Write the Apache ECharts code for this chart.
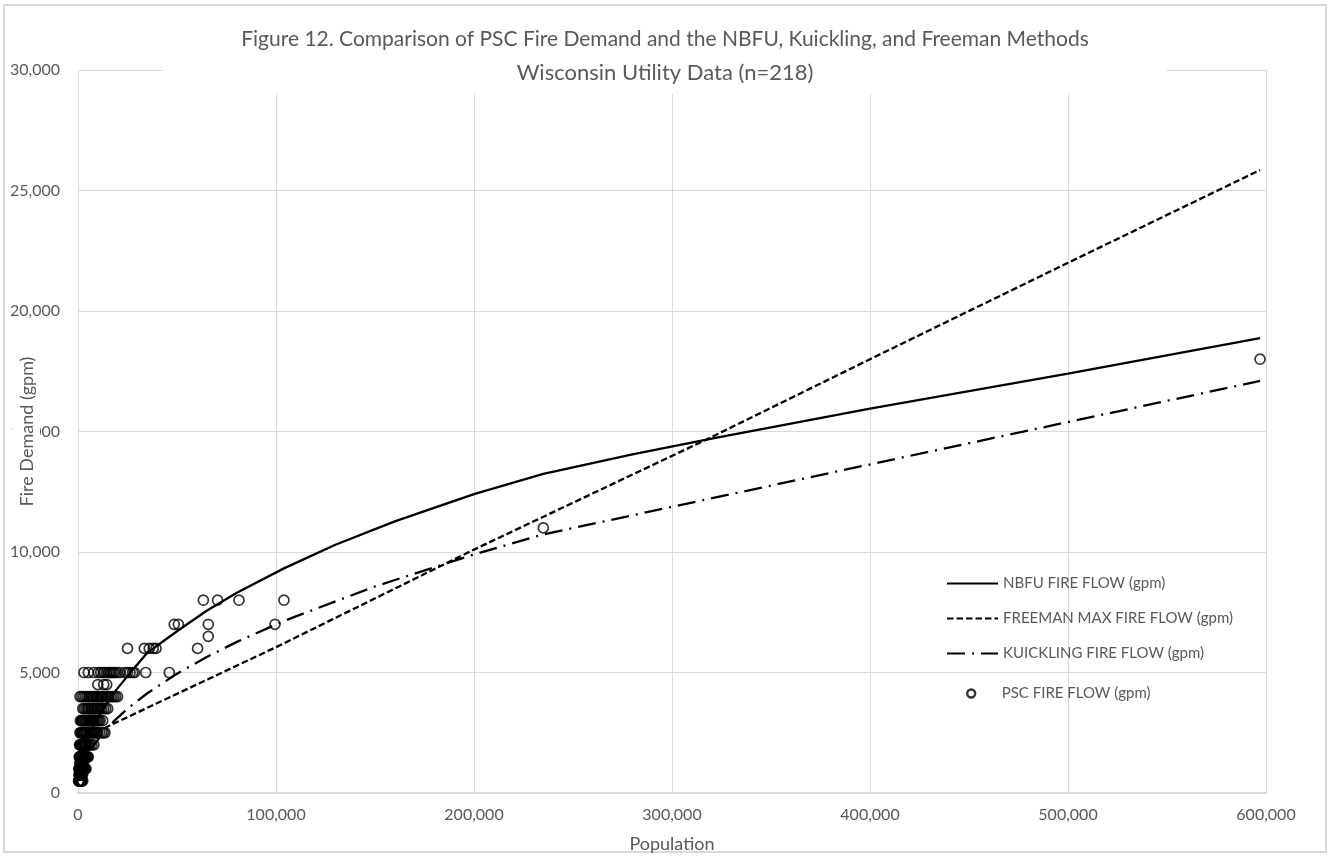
<!DOCTYPE html>
<html>
<head>
<meta charset="utf-8">
<script src="https://cdn.jsdelivr.net/npm/echarts@6/dist/echarts.min.js"></script>
<style>
  html, body { margin: 0; padding: 0; background: #fff; }
  #main { width: 1330px; height: 856px; }
</style>
</head>
<body>
<div id="main"></div>
<script>
// curve values (population, gpm)
var nbfuPop  = [500, 1500, 3000, 5000, 8000, 12000, 18000, 25000, 35000, 50000, 65000, 80000, 104000, 130000, 160000, 200000, 235000, 280000, 320000, 400000, 500000, 597000];
var nbfuFlow = [716, 1230, 1740, 2230, 2800, 3385, 4145, 4850, 5820, 6710, 7560, 8300, 9320, 10300, 11270, 12400, 13240, 14050, 14700, 15950, 17400, 18870];

var freemanPop  = [500, 5000, 16000, 100000, 200000, 317500, 400000, 500000, 597000];
var freemanFlow = [2150, 2350, 2800, 6050, 10100, 14670, 18000, 22000, 25850];

var kuickPop  = [500, 2000, 5000, 8000, 12000, 18000, 25000, 35000, 50000, 65000, 80000, 104000, 150000, 200000, 235000, 597000];
var kuickFlow = [495, 990, 1565, 1980, 2425, 2970, 3500, 4140, 4950, 5640, 6260, 7140, 8570, 9900, 10730, 17100];

// PSC points, grouped by fire flow level (gpm) -> populations
var psc500  = [300, 400, 500, 600, 700, 800, 900, 1000, 1100, 1200, 1300, 1500, 1700, 2000, 2400];
var psc750  = [500, 700, 900, 1100, 1300, 1600, 1900, 2300];
var psc1000 = [400, 600, 800, 1000, 1200, 1400, 1600, 1800, 2000, 2300, 2600, 3000, 3300, 3700, 4000];
var psc1250 = [900, 1300, 1700, 2100, 2800];
var psc1500 = [600, 900, 1000, 1200, 1400, 1500, 1800, 2100, 2200, 2400, 2700, 3000, 3300, 3600, 4000, 4400, 4800, 5200];
var psc2000 = [800, 1000, 1200, 1600, 1900, 2000, 2400, 2600, 2800, 3200, 3400, 3600, 4000, 4200, 4500, 5000, 5500, 6000, 7000, 8000];
var psc2500 = [1000, 1500, 2000, 2200, 2500, 3000, 3200, 3500, 4000, 4500, 4800, 5500, 6200, 7000, 7800, 8500, 9200, 10000, 11000, 12000, 12800, 13600, 6500, 9600];
var psc3000 = [1200, 1800, 2100, 2400, 3000, 3600, 3900, 4500, 5100, 5700, 6300, 6900, 7500, 8100, 8700, 9300, 9900, 10500, 11200, 12500, 2700, 4800, 6000, 7200];
var psc3500 = [2400, 3200, 4000, 4800, 5200, 5600, 6400, 6800, 7200, 8000, 8400, 8800, 9600, 10000, 10400, 11200, 12000, 13000, 14000, 15000];
var psc4000 = [1000, 1900, 2800, 3700, 4600, 5500, 6400, 7300, 7800, 8200, 9100, 9600, 10000, 10900, 11800, 12300, 12700, 13600, 14500, 15000, 15400, 16300, 17200, 18100, 19000, 20000, 11400];
var psc4500 = [10000, 13000, 14500];
var psc5000 = [3000, 5200, 8000, 10300, 11500, 12800, 13500, 14500, 15500, 16200, 17000, 17800, 18500, 19500, 21000, 23700, 25000, 26300, 27600, 28500, 34200, 46100];
var psc6000 = [25000, 33500, 36000, 38000, 39400, 60400];
var psc6500 = [65800];
var psc7000 = [48600, 50700, 65800, 99500];
var psc8000 = [63300, 70500, 81300, 104000];
var psc11000 = [235000];
var psc18000 = [597000];

var pscGroups = [
  [500, psc500], [750, psc750], [1000, psc1000], [1250, psc1250], [1500, psc1500],
  [2000, psc2000], [2500, psc2500], [3000, psc3000], [3500, psc3500], [4000, psc4000],
  [4500, psc4500], [5000, psc5000], [6000, psc6000], [6500, psc6500], [7000, psc7000],
  [8000, psc8000], [11000, psc11000], [18000, psc18000]
];

function zip(xs, ys) {
  var res = [];
  for (var i = 0; i < xs.length; i++) res.push([xs[i], ys[i]]);
  return res;
}

var pscData = [];
pscGroups.forEach(function (g) {
  g[1].forEach(function (p) { pscData.push([p, g[0]]); });
});

var grey = '#595959';
var font = 'Lato';

var myChart = echarts.init(document.getElementById('main'));
myChart.setOption({
  animation: false,
  backgroundColor: '#fff',
  textStyle: { fontFamily: font },
  title: {
    text: '{a|Figure 12. Comparison of PSC Fire Demand and the NBFU, Kuickling, and Freeman Methods}\n{b|Wisconsin Utility Data (n=218)}',
    left: 'center',
    top: 18,
    padding: [5, 78, 10, 78],
    backgroundColor: '#fff',
    textStyle: {
      fontFamily: font,
      fontWeight: 'normal',
      color: grey,
      rich: {
        a: { fontFamily: font, fontSize: 21, color: grey, lineHeight: 33, align: 'center' },
        b: { fontFamily: font, fontSize: 22, color: grey, lineHeight: 33, align: 'center' }
      }
    }
  },
  graphic: [{
    type: 'rect',
    shape: { x: 4, y: 5, width: 1322, height: 847 },
    style: { fill: 'none', stroke: '#d9d9d9', lineWidth: 2 },
    silent: true,
    z: 0
  }],
  legend: [{
    orient: 'vertical',
    left: 946,
    top: 576,
    padding: 0,
    itemWidth: 51,
    itemHeight: 14,
    itemGap: 20,
    itemStyle: { color: 'rgba(0,0,0,0)', borderWidth: 0 },
    textStyle: { fontSize: 15, color: grey, fontFamily: font },
    data: ['NBFU FIRE FLOW (gpm)', 'FREEMAN MAX FIRE FLOW (gpm)', 'KUICKLING FIRE FLOW (gpm)']
  }, {
    orient: 'vertical',
    left: 966,
    top: 686,
    padding: 0,
    itemWidth: 51,
    itemHeight: 8,
    itemStyle: { borderWidth: 2.4, borderColor: '#000' },
    textStyle: { fontSize: 15, color: grey, fontFamily: font },
    data: ['PSC FIRE FLOW (gpm)']
  }],
  grid: { left: 78, right: 64, top: 70, bottom: 63, containLabel: false, outerBoundsMode: 'none' },
  xAxis: {
    type: 'value',
    min: 0,
    max: 600000,
    interval: 100000,
    name: 'Population',
    nameLocation: 'middle',
    nameGap: 42,
    nameMoveOverlap: false,
    nameTextStyle: { fontSize: 18, color: grey, fontFamily: font },
    axisLine: { show: true, lineStyle: { color: '#d9d9d9', width: 2 } },
    axisTick: { show: false },
    axisLabel: {
      margin: 14,
      fontSize: 16,
      color: grey,
      fontFamily: font,
      formatter: function (v) { return v.toLocaleString('en-US'); }
    },
    splitLine: { show: true, lineStyle: { color: '#d9d9d9', width: 1 } }
  },
  yAxis: [{
    type: 'value',
    min: 0,
    max: 30000,
    interval: 5000,
    position: 'left',
    axisLine: { show: false },
    axisTick: { show: false },
    axisLabel: {
      margin: 18,
      fontSize: 16,
      color: grey,
      fontFamily: font,
      formatter: function (v) { return v.toLocaleString('en-US'); }
    },
    splitLine: { show: true, lineStyle: { color: '#d9d9d9', width: 1 } },
    z: 0
  }, {
    // only carries the axis title, drawn above the tick labels
    type: 'value',
    min: 0,
    max: 30000,
    interval: 5000,
    position: 'left',
    name: 'Fire Demand (gpm)',
    nameLocation: 'middle',
    nameGap: 38,
    nameMoveOverlap: false,
    nameTextStyle: {
      fontSize: 18, color: grey, fontFamily: font,
      backgroundColor: '#fff', padding: [6, 2, 4, 2]
    },
    axisLine: { show: false },
    axisTick: { show: false },
    axisLabel: { show: false },
    splitLine: { show: false },
    z: 5
  }],
  series: [
    {
      name: 'NBFU FIRE FLOW (gpm)',
      type: 'line',
      data: zip(nbfuPop, nbfuFlow),
      symbol: 'none',
      lineStyle: { color: '#000', width: 2.3, type: 'solid' },
      itemStyle: { color: '#000' },
      z: 3
    },
    {
      name: 'FREEMAN MAX FIRE FLOW (gpm)',
      type: 'line',
      data: zip(freemanPop, freemanFlow),
      symbol: 'none',
      lineStyle: { color: '#000', width: 2.3, type: [6.5, 3], cap: 'butt' },
      itemStyle: { color: '#000' },
      z: 3
    },
    {
      name: 'KUICKLING FIRE FLOW (gpm)',
      type: 'line',
      data: zip(kuickPop, kuickFlow),
      symbol: 'none',
      lineStyle: { color: '#000', width: 2.3, type: [18, 7, 2, 7], cap: 'butt' },
      itemStyle: { color: '#000' },
      z: 3
    },
    {
      name: 'PSC FIRE FLOW (gpm)',
      type: 'scatter',
      data: pscData,
      symbol: 'circle',
      symbolSize: 10,
      itemStyle: { color: 'rgba(0,0,0,0)', borderColor: '#000', borderWidth: 1.7 },
      z: 4
    }
  ]
});
</script>
</body>
</html>
